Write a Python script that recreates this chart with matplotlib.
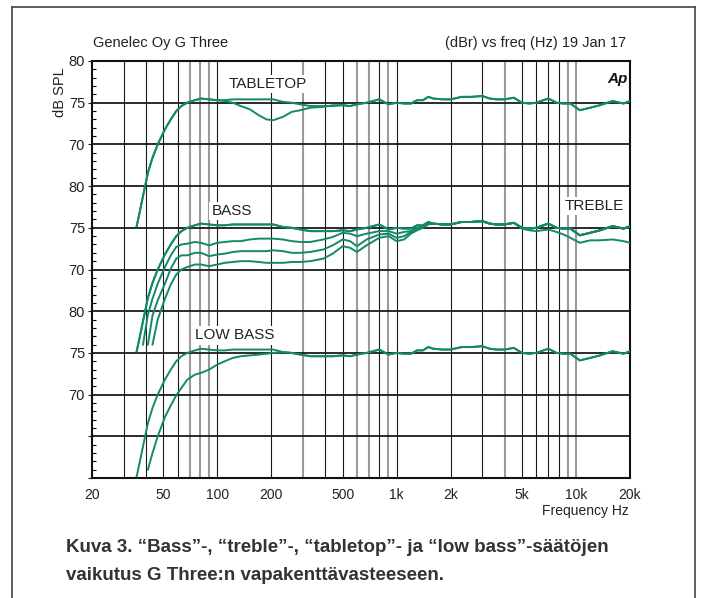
import numpy as np
import matplotlib.pyplot as plt
from matplotlib.lines import Line2D
from matplotlib.ticker import FixedLocator, FixedFormatter, NullFormatter

plt.rcParams['font.family'] = ['Liberation Sans', 'DejaVu Sans']

# frequency grid, low/mid part and high part (Hz)
f_lo = [35.5, 37, 38.5, 41, 43.5, 46.5, 51, 55, 59, 63,
        68, 75, 81, 90, 100, 110, 122, 135, 152, 170,
        188, 205, 232, 260, 290, 330, 390, 440, 500, 550,
        600, 680, 800, 900, 1000, 1100, 1200, 1300, 1400, 1500]
f_hi = [1600, 1800, 2000, 2300, 2600, 3000, 3300, 3600, 4000, 4500,
        5000, 5500, 6000, 7000, 7800, 8500, 9300, 10500, 12000, 13600,
        16000, 18400, 20000]

nan = np.nan
# dB SPL readings, low/mid part
flat_lo = [60.2, 62.0, 63.8, 66.6, 68.4, 70.0, 71.8, 73.0, 74.0, 74.6,
           75.0, 75.3, 75.5, 75.4, 75.3, 75.3, 75.4, 75.4, 75.4, 75.4,
           75.4, 75.4, 75.1, 75.0, 74.8, 74.6, 74.6, 74.6, 74.7, 74.6,
           74.8, 75.0, 75.4, 74.8, 75.0, 74.9, 74.9, 75.3, 75.3, 75.7]
tabletop_lo = [60.2, 62.0, 63.8, 66.6, 68.4, 70.0, 71.8, 73.0, 74.0, 74.6,
               75.0, 75.3, 75.5, 75.4, 75.3, 75.2, 75.0, 74.6, 74.2, 73.5,
               73.0, 72.9, 73.3, 73.9, 74.1, 74.4, 74.5, 74.7, 74.7, 74.6,
               74.8, 75.0, 75.4, 74.8, 75.0, 74.9, 74.9, 75.3, 75.3, 75.7]
bass_b_lo = [nan, nan, 61.0, 64.6, 66.5, 68.3, 70.3, 71.7, 72.7, 73.0,
             73.1, 73.3, 73.2, 72.9, 73.2, 73.3, 73.4, 73.4, 73.6, 73.7,
             73.7, 73.7, 73.6, 73.4, 73.3, 73.3, 73.6, 73.9, 74.4, 74.3,
             74.0, 74.3, 74.6, 74.6, 74.3, 74.5, 74.6, 75.0, 75.2, 75.5]
bass_c_lo = [nan, nan, nan, 61.0, 64.5, 66.3, 68.3, 70.1, 71.3, 71.7,
             71.7, 72.0, 72.0, 71.6, 71.8, 71.9, 72.1, 72.2, 72.2, 72.2,
             72.2, 72.3, 72.2, 72.0, 72.0, 72.1, 72.4, 72.9, 73.6, 73.4,
             72.8, 73.6, 74.2, 74.3, 73.8, 74.0, 74.5, 74.9, 75.1, 75.5]
bass_d_lo = [nan, nan, nan, nan, 61.0, 64.0, 66.5, 68.2, 69.4, 70.0,
             70.3, 70.6, 70.6, 70.4, 70.6, 70.8, 70.9, 71.0, 71.0, 70.9,
             70.8, 70.8, 70.8, 70.9, 70.9, 71.0, 71.3, 71.9, 72.8, 72.6,
             72.1, 72.9, 73.8, 74.0, 73.4, 73.6, 74.3, 74.7, 75.0, 75.4]
lowbass_lo = [nan, nan, nan, 61.0, 63.0, 65.0, 67.3, 68.7, 69.9, 70.8,
              71.8, 72.4, 72.6, 73.0, 73.6, 74.0, 74.4, 74.6, 74.7, 74.8,
              74.9, 75.0, 75.1, 75.0, 74.8, 74.6, 74.6, 74.6, 74.7, 74.6,
              74.8, 75.0, 75.4, 74.8, 75.0, 74.9, 74.9, 75.3, 75.3, 75.7]
# high part
flat_hi = [75.5, 75.4, 75.4, 75.7, 75.7, 75.8, 75.5, 75.4, 75.4, 75.6,
           75.0, 74.9, 75.0, 75.5, 75.0, 74.9, 74.9, 74.1, 74.4, 74.7,
           75.2, 74.9, 75.2]
treble_hi = [75.5, 75.4, 75.4, 75.7, 75.7, 75.8, 75.5, 75.4, 75.4, 75.6,
             74.9, 74.7, 74.6, 74.8, 74.5, 74.2, 73.8, 73.2, 73.5, 73.5,
             73.6, 73.4, 73.2]

# (curves, panel offset)
panels = [
    ([flat_lo + flat_hi, tabletop_lo + flat_hi], 0),
    ([flat_lo + flat_hi, flat_lo + treble_hi, bass_b_lo + flat_hi,
      bass_c_lo + flat_hi, bass_d_lo + flat_hi], 15),
    ([flat_lo + flat_hi, lowbass_lo + flat_hi], 30),
]
freq = np.array(f_lo + f_hi)

xticks = [20, 50, 100, 200, 500, 1000, 2000, 5000, 10000, 20000]
xlabels = ['20', '50', '100', '200', '500', '1k', '2k', '5k', '10k', '20k']
yticks = [30, 35, 40, 45, 50, 55, 60, 65, 70, 75, 80]
ylabels = ['', '', '70', '75', '80', '70', '75', '80', '70', '75', '80']

green = '#13896a'

fig = plt.figure(figsize=(7.01, 5.98), dpi=100)
ax = fig.add_axes([92 / 701, 1 - 478 / 598, 538 / 701, 417 / 598])
ax.set_xscale('log')
ax.set_xlim(20, 20000)
ax.set_ylim(30, 80)

# vertical grid
for dec in [10, 100, 1000, 10000]:
    for m in range(1, 10):
        f = dec * m
        if f <= 20 or f >= 20000:
            continue
        if f in (70, 80, 90, 300, 600, 700, 900, 4000, 9000, 10000):
            ax.axvline(f, color='#9a9a9a', lw=1.5, zorder=1)
        else:
            ax.axvline(f, color='#1a1a1a', lw=0.8, zorder=1)
for y in yticks[1:-1]:
    ax.axhline(y, color='#1a1a1a', lw=1.3, zorder=1)

for curves, off in panels:
    for c in curves:
        ax.plot(freq, np.array(c) - off, color=green, lw=1.4, zorder=3)

box = dict(facecolor='white', edgecolor='none', pad=1.5)
ax.text(191, 77.2, 'TABLETOP', ha='center', va='center', fontsize=11,
        color='#222222', bbox=box, zorder=2)
ax.text(120, 62.0, 'BASS', ha='center', va='center', fontsize=11,
        color='#222222', bbox=box, zorder=2)
ax.text(12600, 62.6, 'TREBLE', ha='center', va='center', fontsize=11,
        color='#222222', bbox=box, zorder=2)
ax.text(125, 47.1, 'LOW BASS', ha='center', va='center', fontsize=11,
        color='#222222', bbox=box, zorder=2)
ax.text(0.995, 0.958, 'Ap', transform=ax.transAxes, ha='right', va='center',
        fontsize=11, fontweight='bold', fontstyle='italic', color='#111111')

ax.xaxis.set_major_locator(FixedLocator(xticks))
ax.xaxis.set_major_formatter(FixedFormatter(xlabels))
ax.xaxis.set_minor_formatter(NullFormatter())
ax.tick_params(axis='x', which='both', length=0, pad=7, labelsize=10,
               colors='#222222')
ax.yaxis.set_major_locator(FixedLocator(yticks))
ax.yaxis.set_major_formatter(FixedFormatter(ylabels))
ax.yaxis.set_minor_locator(FixedLocator(range(30, 81)))
ax.tick_params(axis='y', which='major', direction='out', length=3, pad=2,
               labelsize=10.5, colors='#222222')
ax.tick_params(axis='y', which='minor', direction='in', length=3, width=0.8)
for s in ax.spines.values():
    s.set_linewidth(1.5)
    s.set_color('#111111')

fig.text(93 / 701, 1 - 43 / 598, 'Genelec Oy G Three', ha='left', va='center',
         fontsize=10.5, color='#222222')
fig.text(626 / 701, 1 - 43 / 598, '(dBr) vs freq (Hz) 19 Jan 17', ha='right',
         va='center', fontsize=10.5, color='#222222')
fig.text(60 / 701, 1 - 92 / 598, 'dB SPL', rotation=90, ha='center',
         va='center', fontsize=10.5, color='#222222')
fig.text(629 / 701, 1 - 511 / 598, 'Frequency Hz', ha='right', va='center',
         fontsize=10, color='#222222')
fig.text(66 / 701, 1 - 548 / 598,
         'Kuva 3. \u201cBass\u201d-, \u201ctreble\u201d-, \u201ctabletop\u201d- ja '
         '\u201clow bass\u201d-säätöjen', ha='left', va='center', fontsize=13.5,
         fontweight='bold', color='#333333')
fig.text(66 / 701, 1 - 576 / 598, 'vaikutus G Three:n vapakenttävasteeseen.',
         ha='left', va='center', fontsize=13.5, fontweight='bold',
         color='#333333')

# outer frame, open at the bottom
x0, x1, yt = 12 / 701, 695 / 701, 1 - 7 / 598
for xs, ys in [([x0, x0], [0, yt]), ([x0, x1], [yt, yt]), ([x1, x1], [yt, 0])]:
    fig.add_artist(Line2D(xs, ys, color='#444444', lw=1.2))

fig.savefig('out.png', dpi=100)
